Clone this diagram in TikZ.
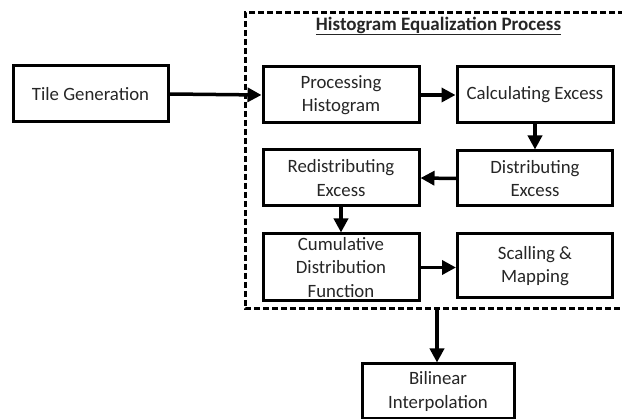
\documentclass[tikz,border=0pt]{standalone}
\usepackage{fontspec}
\setmainfont{Carlito}
\usetikzlibrary{arrows.meta}
\begin{document}
\begin{tikzpicture}[x=1pt,y=-1pt,
  box/.style={draw=black,line width=3pt,fill=white,align=center,inner sep=2pt,
    font=\fontsize{18.8}{23.5}\selectfont,text=black!85},
  conn/.style={line width=3.5pt,-{Triangle[length=14pt,width=14pt]}},
  dashedframe/.style={line width=3pt,dash pattern=on 6pt off 3pt}]
\useasboundingbox (0,0) rectangle (622,419);
% dashed frame (right side lies outside the picture)
\coordinate (ftr) at (624,13);
\coordinate (ftl) at (245,13);
\coordinate (fbl) at (245,309);
\coordinate (fbr) at (624,309);
\draw[dashedframe] (ftr) -- (ftl) -- (fbl) -- (fbr);
\node[font=\bfseries\fontsize{19}{22}\selectfont,text=black!85] (title) at (438.5,26) {\underline{Histogram Equalization Process}};
% boxes
\node[box,minimum width=155pt,minimum height=56pt] (tile) at (90.5,94) {Tile Generation};
\node[box,minimum width=156pt,minimum height=56pt] (proc) at (341,95) {Processing\\Histogram};
\node[box,minimum width=156pt,minimum height=56pt] (calc) at (535,95) {Calculating Excess};
\node[box,minimum width=155pt,minimum height=55pt] (dist) at (535,178.5) {Distributing\\Excess};
\node[box,minimum width=156pt,minimum height=56pt] (redist) at (341,178) {Redistributing\\Excess};
\node[box,minimum width=156pt,minimum height=67pt] (cum) at (341,267.5) {Cumulative\\Distribution\\Function};
\node[box,minimum width=155pt,minimum height=64pt] (scal) at (535,266) {Scalling \&\\Mapping};
\node[box,minimum width=152pt,minimum height=55pt] (bil) at (438,391.5) {Bilinear\\Interpolation};
% connectors
\coordinate (dbot) at (437,309);
\draw[conn] (tile.east) -- (proc.west);
\draw[conn] (proc.east) -- (calc.west);
\draw[conn] (calc.south) -- (dist.north);
\draw[conn] (dist.west) -- (redist.east);
\draw[conn] (redist.south) -- (cum.north);
\draw[conn] (cum.east) -- (cum.east -| scal.west);
\draw[conn] (dbot) -- (dbot |- bil.north);
\end{tikzpicture}
\end{document}
